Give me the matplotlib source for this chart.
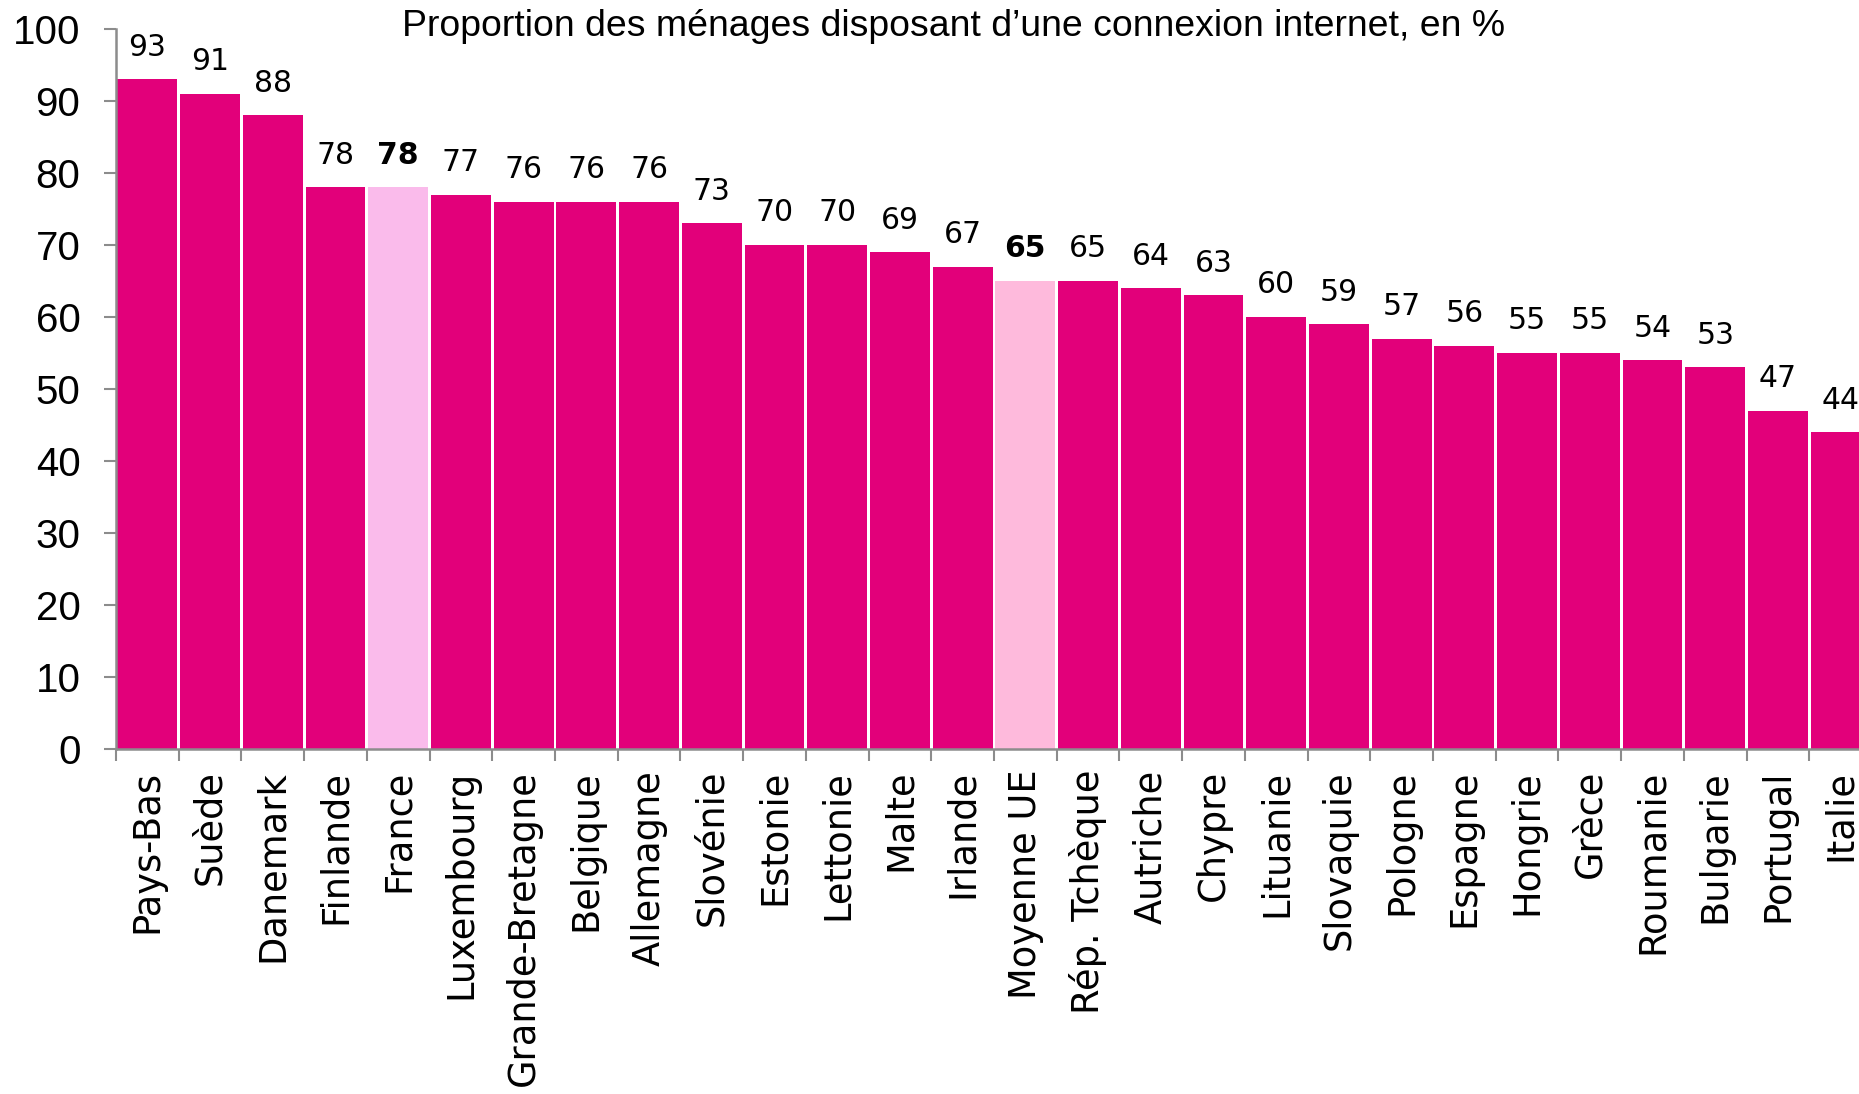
import matplotlib
matplotlib.use("Agg")
import matplotlib.pyplot as plt
import numpy as np

countries = ["Pays-Bas", "Suède", "Danemark", "Finlande", "France", "Luxembourg",
             "Grande-Bretagne", "Belgique", "Allemagne", "Slovénie", "Estonie",
             "Lettonie", "Malte", "Irlande", "Moyenne UE", "Rép. Tchèque", "Autriche",
             "Chypre", "Lituanie", "Slovaquie", "Pologne", "Espagne", "Hongrie",
             "Grèce", "Roumanie", "Bulgarie", "Portugal", "Italie"]
values = [93, 91, 88, 78, 78, 77, 76, 76, 76, 73, 70, 70, 69, 67, 65, 65, 64,
          63, 60, 59, 57, 56, 55, 55, 54, 53, 47, 44]
highlight = {"France": "#FABBEB", "Moyenne UE": "#FEBADC"}
yticks = [0, 10, 20, 30, 40, 50, 60, 70, 80, 90, 100]
title = "Proportion des ménages disposant d\u2019une connexion internet, en %"

W, H = 1859, 1094
fig = plt.figure(figsize=(W / 100, H / 100), dpi=100)
ax = fig.add_axes([116 / W, (H - 749) / H, 1756 / W, 720 / H])

main_color = "#E2007A"
gray = "#8C8C8C"
x = np.arange(len(countries)) + 0.5
colors = [highlight.get(c, main_color) for c in countries]
ax.bar(x, values, width=0.955, color=colors, linewidth=0)

ax.set_xlim(0, len(countries))
ax.set_ylim(0, 100)

for xi, v, c in zip(x, values, countries):
    bold = c in highlight
    ax.annotate(str(v), (xi, v), xytext=(0, 17), textcoords="offset points",
                ha="center", va="baseline", fontsize=21.5,
                fontweight="bold" if bold else "normal",
                family="DejaVu Sans", color="black")

ax.set_xticks(np.arange(len(countries) + 1))
ax.set_xticklabels([])
ax.set_xticks(x, minor=True)
ax.set_xticklabels(countries, minor=True, rotation=90, ha="center", va="top",
                   fontsize=26.5, family="DejaVu Sans")
ax.tick_params(axis="x", which="major", length=8.6, width=1.5, color=gray, direction="out")
ax.tick_params(axis="x", which="minor", length=0, pad=15)

ax.set_yticks(yticks)
ax.set_yticklabels([str(t) for t in yticks], fontsize=29, family="Liberation Sans")
ax.tick_params(axis="y", length=8.6, width=1.5, color=gray, direction="out", pad=17)

for s in ["top", "right"]:
    ax.spines[s].set_visible(False)
for s in ["left", "bottom"]:
    ax.spines[s].set_color(gray)
    ax.spines[s].set_linewidth(1.8)

fig.text(954 / W, 1 - 26 / H, title, ha="center", va="center", fontsize=26.9,
         family="Liberation Sans", color="black")

fig.savefig("out.png", dpi=100)
